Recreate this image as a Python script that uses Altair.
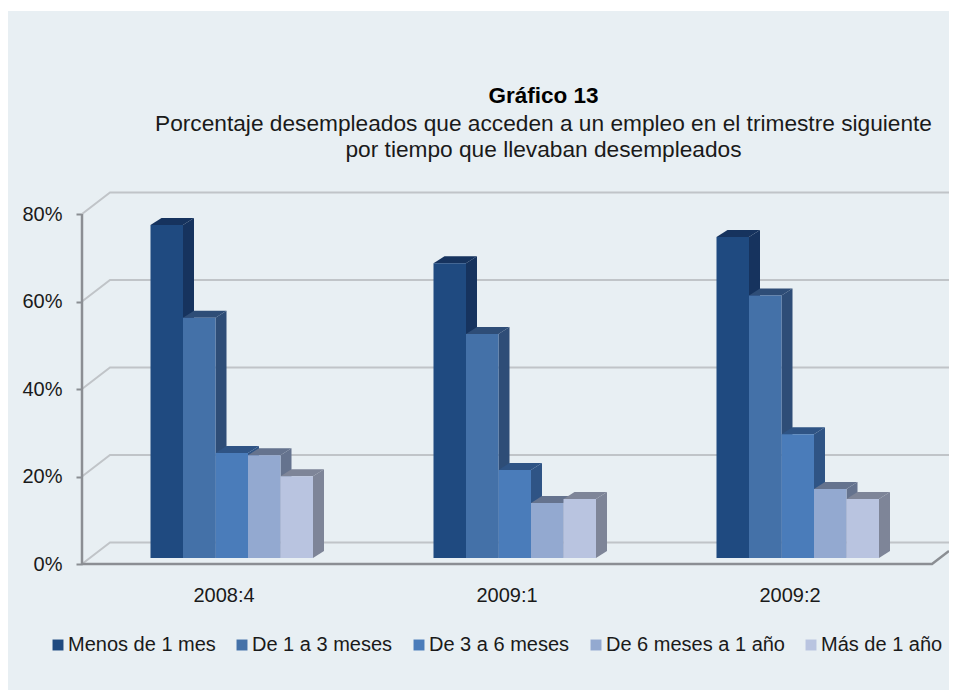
import json
import altair as alt
import pandas as pd

# ---- values ----
periods = ["2008:4", "2009:1", "2009:2"]
series = ["Menos de 1 mes", "De 1 a 3 meses", "De 3 a 6 meses", "De 6 meses a 1 año", "Más de 1 año"]
v_menos1 = [76.1, 67.4, 73.4]
v_1a3 = [54.9, 51.2, 60.0]
v_3a6 = [24.0, 20.1, 28.3]
v_6a12 = [23.5, 12.6, 15.8]
v_mas1 = [18.7, 13.5, 13.5]
all_values = [v_menos1, v_1a3, v_3a6, v_6a12, v_mas1]
y_ticks = [0, 20, 40, 60, 80]

front_colors = ["#1f4a80", "#4471a8", "#4a7cba", "#93a9d0", "#b9c4e0"]
shade_colors = ["#16335e", "#2e4d77", "#2f5485", "#65738e", "#7e8598"]

FONT = "Liberation Sans"
PANEL = "#e8eff3"
GRID = "#c0c4c8"
AXIS = "#8b8e93"

# ---- scene geometry (3D look), in scale units ----
PXX, PXY = 283.0, 4.375           # px per group, px per percent
W, H = 941, 679
x_dom = [-74 / PXX, (W - 74) / PXX]
y_dom = [-(690 - 564) / PXY, (564 - 11) / PXY]
wall_dx, wall_dy = 28 / PXX, 21.5 / PXY
base = 6 / PXY
start, bw = 68.5 / PXX, 32.5 / PXX
dx, dy = 11 / PXX, 7 / PXY
floor_end = (932 - 82) / PXX

fronts, sides, tops = [], [], []
for g, p in enumerate(periods):
    for s, name in enumerate(series):
        v = all_values[s][g]
        x0 = g + start + s * bw
        x1 = x0 + bw
        key = f"{g}-{s}"
        fronts.append(dict(x=x0, x2=x1, y=base, y2=base + v, serie=name))
        c = shade_colors[s]
        sides += [dict(k=key, x=x1, y=base, y2=base + v, c=c),
                  dict(k=key, x=x1 + dx, y=base + dy, y2=base + v + dy, c=c)]
        t = base + v
        tops += [dict(k=key, x=x0, y=t, y2=t, c=c),
                 dict(k=key, x=x0 + dx, y=t, y2=t + dy, c=c),
                 dict(k=key, x=x1, y=t, y2=t + dy, c=c),
                 dict(k=key, x=x1 + dx, y=t + dy, y2=t + dy, c=c)]

grid = []
for v in y_ticks:
    grid += [dict(k=v, x=0, y=v), dict(k=v, x=wall_dx, y=v + wall_dy),
             dict(k=v, x=x_dom[1], y=v + wall_dy)]
floor = [dict(x=0, y=0), dict(x=floor_end, y=0), dict(x=x_dom[1], y=(x_dom[1] - floor_end) / wall_dx * wall_dy)]
yline = [dict(x=0, y=0, y2=y_ticks[-1])]

xs = alt.Scale(domain=x_dom, nice=False, zero=False)
ys = alt.Scale(domain=y_dom, nice=False, zero=False)

label_expr = f"{json.dumps(periods)}[round(datum.value - 0.5)]"
x_axis = alt.Axis(values=[0.5, 1.5, 2.5], labelExpr=label_expr, title=None, grid=False, ticks=False,
                  domain=False, offset=-126, labelPadding=21, labelFont=FONT, labelFontSize=20,
                  labelColor="#1a1a1a", labelFlush=False, labelOverlap=False)
y_axis = alt.Axis(values=y_ticks, format=".0f", labelExpr="datum.value + '%'", title=None, grid=False, domain=False,
                  offset=-74, tickSize=6, tickColor=AXIS, tickWidth=2, labelPadding=14, labelFont=FONT,
                  labelFontSize=20, labelColor="#1a1a1a", labelOverlap=False)

grid_l = alt.Chart(pd.DataFrame(grid)).mark_line(color=GRID, strokeWidth=2).encode(
    x=alt.X("x:Q", scale=xs, axis=x_axis), y=alt.Y("y:Q", scale=ys, axis=y_axis), detail="k:N")
floor_l = alt.Chart(pd.DataFrame(floor)).mark_line(color=AXIS, strokeWidth=2.5).encode(
    x=alt.X("x:Q", scale=xs), y=alt.Y("y:Q", scale=ys))
y_l = alt.Chart(pd.DataFrame(yline)).mark_rule(color=AXIS, strokeWidth=2.5).encode(
    x=alt.X("x:Q", scale=xs), y=alt.Y("y:Q", scale=ys), y2="y2:Q")


def faces(rows):
    return alt.Chart(pd.DataFrame(rows)).mark_area(strokeWidth=0).encode(
        x=alt.X("x:Q", scale=xs), y=alt.Y("y:Q", scale=ys), y2="y2:Q",
        detail="k:N", color=alt.Color("c:N", scale=None))


front_l = alt.Chart(pd.DataFrame(fronts)).mark_bar(strokeWidth=0).encode(
    x=alt.X("x:Q", scale=xs), x2="x2:Q", y=alt.Y("y:Q", scale=ys), y2="y2:Q",
    color=alt.Color("serie:N", scale=alt.Scale(domain=series, range=front_colors), sort=series,
                    legend=alt.Legend(title=None, orient="none", legendX=40, legendY=624, direction="horizontal",
                                      columns=5, columnPadding=16, symbolType="square", symbolSize=120,
                                      symbolStrokeWidth=0, labelFont=FONT, labelFontSize=20,
                                      labelColor="#1a1a1a", labelLimit=300, labelOffset=0, padding=0)))

chart = (grid_l + floor_l + y_l + faces(sides) + faces(tops) + front_l).resolve_scale(color="independent").properties(
    width=W, height=H,
    background="white",
    padding={"left": 0, "top": 3, "right": 0, "bottom": 0},
    autosize=alt.AutoSizeParams(type="none"),
    title=alt.TitleParams(
        text="Gráfico 13",
        subtitle=["Porcentaje desempleados que acceden a un empleo en el trimestre siguiente",
                  "por tiempo que llevaban desempleados"],
        anchor="middle", frame="group", orient="top", dx=65, dy=151, offset=0,
        font=FONT, fontSize=22.5, fontWeight="bold", color="#000000",
        subtitleFont=FONT, subtitleFontSize=22.7, subtitleColor="#1a1a1a",
        subtitleLineHeight=26.5, subtitlePadding=5),
).configure_view(fill=PANEL, strokeWidth=0)

chart.save("out.html", embed_options={"renderer": "svg", "actions": False})
